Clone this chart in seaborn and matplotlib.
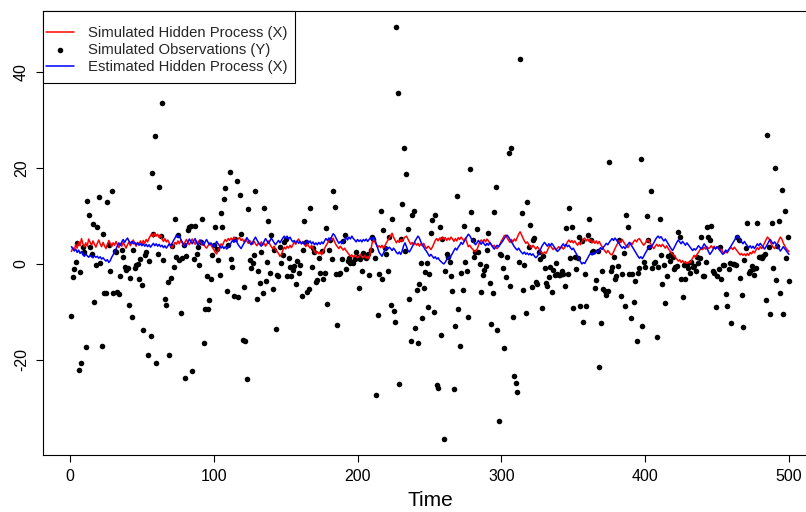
import numpy as np
import pandas as pd
import matplotlib
matplotlib.use("Agg")
import matplotlib.pyplot as plt
from matplotlib.patches import Rectangle
import seaborn as sns

# observations Y, t = 1..500
y_obs = [
    -10.8, -2.8, -1.1, 0.4, 4.3, -22.0, -1.7, -20.7, 3.6, 2.4,
    -17.2, 13.1, 10.1, 3.5, 2.0, 8.3, -7.9, -0.3, 7.6, 14.0,
    0.3, -17.0, 6.2, -6.0, -6.1, 12.9, 4.0, -1.5, 15.1, -6.1,
    2.7, 2.4, -5.9, -6.2, -2.6, 3.0, 1.5, -0.6, -1.2, -0.9,
    -8.6, -2.9, -11.0, 2.9, -0.8, -0.3, 0.0, -3.2, 1.0, -4.4,
    -13.8, 1.9, 2.5, -19.0, 0.6, -15.0, 18.9, 6.2, 26.7, -20.7,
    2.0, 16.1, 5.9, 33.5, 0.8, -7.3, -8.5, -3.7, -19.0, -3.0,
    3.8, -0.6, 9.4, 1.5, 6.0, 0.8, -10.3, 1.2, 4.0, -23.8,
    1.7, 7.1, 7.8, 8.0, -22.4, 1.0, 8.0, 2.0, 3.5, -0.3,
    4.5, 9.4, -16.5, -9.3, -2.6, -9.3, -7.5, -3.2, 1.8, 4.0,
    7.6, 3.2, 0.8, -2.4, 10.7, 7.6, 13.5, 15.8, -5.6, 4.0,
    19.2, 1.1, -0.6, -6.7, 5.2, 17.2, -6.8, 14.3, 6.2, -15.8,
    -4.9, -16.1, -24.0, 11.5, 0.8, -0.9, 0.2, 1.9, 15.3, -7.2,
    -1.4, -4.0, 2.5, -6.1, 11.7, -3.5, 0.5, 9.0, -1.8, 6.1,
    -5.3, 3.0, -13.5, -2.3, -2.5, 3.6, 0.1, 1.9, 4.5, 5.1,
    -2.6, 1.2, -0.6, -2.6, -1.2, -0.4, -4.2, 0.6, -1.9, -0.2,
    -6.7, 3.0, 9.0, 4.5, -5.8, -5.3, 11.6, -0.7, 3.3, 2.4,
    -3.7, -3.3, 1.3, -1.9, 2.6, -3.2, -1.8, 7.4, -8.3, 3.0,
    5.0, 1.0, 15.2, 11.8, -2.0, -12.7, -2.1, -1.9, 1.0, 4.8,
    6.0, -1.0, 0.7, 1.2, 0.1, 0.5, 0.1, 1.0, 2.5, 1.5,
    -5.1, 1.0, -1.4, 2.2, 1.5, 1.2, 2.0, -2.2, 3.0, 5.6,
    5.2, 1.2, -27.2, -10.6, -2.1, 11.0, -3.2, 7.1, 3.3, 2.0,
    -1.4, 5.6, -8.6, 9.4, -9.7, -12.1, 49.3, 35.6, -25.0, 5.1,
    12.5, 24.1, 2.6, 18.8, 7.2, -7.4, -16.0, 10.2, 11.1, -13.4,
    -5.4, -16.5, -4.2, 0.3, -11.3, -5.0, -1.7, 0.3, -9.0, -2.1,
    6.4, 9.2, -10.0, 10.2, -25.2, -25.8, 7.6, -14.7, 5.2, -36.4,
    -1.4, 2.0, 1.5, 0.5, -2.6, -5.6, -26.1, -13.0, 14.2, -9.4,
    -17.1, -1.9, -5.4, 7.9, 0.5, -1.5, -11.0, 19.7, 10.9, 5.0,
    1.5, 2.5, 7.2, 2.5, 0.0, -5.8, -2.3, -1.2, -0.5, 3.0,
    6.5, -3.9, -12.5, -6.1, 10.9, 16.0, -13.8, -32.7, 2.0, 1.9,
    -0.8, -17.6, -2.8, 1.5, 23.2, -4.6, 24.2, -11.1, -23.3, -24.7,
    -26.7, 0.5, 42.7, 10.6, -5.4, -0.2, -10.3, 13.0, 3.5, 8.1,
    -4.9, 5.0, 5.5, -3.7, -4.2, 2.5, 1.1, -9.2, 1.7, -0.8,
    -3.9, -4.6, -2.8, -0.7, -5.9, -1.2, -2.3, 0.1, -2.1, -2.3,
    -2.2, -1.4, -2.1, -4.6, 7.4, -2.1, 11.7, 1.3, 7.6, -9.2,
    1.5, -1.1, 1.3, 5.7, -8.7, 4.7, -12.0, -2.1, -8.8, 6.0,
    9.3, 5.0, 2.4, 2.6, -5.1, -3.3, 2.8, -21.4, -12.2, -1.4,
    -5.3, -5.6, -6.4, -5.6, 21.3, -1.4, -0.7, 1.4, -3.2, -2.5,
    -0.4, 4.9, -6.7, -2.0, 2.2, -8.8, 10.2, 7.6, -2.1, -11.3,
    -2.1, -7.9, -3.5, -16.0, -1.8, -0.9, 21.9, -13.0, 0.5, -0.6,
    10.0, 5.0, 3.5, 15.3, -0.9, 0.1, 0.5, -15.3, -0.6, 9.4,
    1.9, -4.1, -0.2, -8.2, -2.6, 1.7, 0.7, 2.0, 1.4, -1.0,
    -0.6, -0.4, 6.7, 5.7, -3.2, -6.9, -0.2, -3.2, -0.2, -0.9,
    -1.9, 0.5, -0.6, -0.4, -1.4, 1.5, 0.1, 1.2, 5.7, -2.5,
    -2.6, 0.5, 7.8, 5.7, 4.9, 7.9, -1.4, -1.9, -9.0, -2.5,
    -1.1, 3.5, -3.1, -0.3, -0.2, -6.2, -8.8, -1.1, 0.1, -12.4,
    0.0, -0.1, -0.2, 5.6, 4.9, -3.0, -6.5, -13.2, 0.8, 3.3,
    8.6, -1.9, -1.4, -0.4, -1.1, -2.3, -0.9, 8.6, 1.5, 1.4,
    1.3, 1.7, 2.0, -7.5, 26.9, 3.5, -10.4, 8.6, -0.8, 19.9,
    -3.3, 3.7, 9.0, -6.0, 15.4, -10.4, 11.1, 1.2, 5.6, -3.5,
]

# simulated hidden process X (red)
x_sim = [
    2.6, 3.4, 2.9, 4.1, 3.3, 4.6, 3.8, 5.3, 4.2, 3.6,
    4.4, 3.7, 5.2, 4.5, 3.9, 4.8, 4.1, 3.5, 4.3, 5.0,
    4.2, 3.6, 4.5, 3.8, 3.2, 4.1, 4.9, 4.3, 3.6, 4.4,
    3.9, 4.7, 4.0, 3.4, 4.2, 3.7, 4.5, 3.9, 3.3, 4.0,
    4.6, 3.8, 4.4, 5.0, 4.3, 3.7, 4.5, 4.1, 4.8, 4.2,
    4.9, 4.3, 5.1, 4.6, 5.4, 5.9, 6.3, 5.6, 6.4, 5.8,
    6.2, 5.5, 6.0, 5.2, 4.7, 5.3, 4.6, 5.0, 4.4, 3.8,
    3.3, 3.9, 4.5, 4.1, 4.8, 4.2, 5.0, 4.4, 3.9, 4.6,
    5.1, 4.5, 4.0, 4.7, 5.2, 4.6, 4.1, 4.8, 4.3, 5.0,
    4.5, 3.9, 4.4, 3.6, 3.3, 3.8, 4.4, 3.9, 3.5, 3.0,
    2.4, 2.1, 2.8, 3.5, 4.2, 3.8, 4.6, 5.1, 4.7, 5.3,
    4.9, 5.4, 5.0, 5.6, 5.1, 4.7, 5.3, 5.5, 4.9, 5.2,
    4.6, 5.1, 4.8, 4.3, 4.9, 4.5, 4.1, 4.7, 4.2, 3.8,
    4.4, 4.0, 4.6, 3.9, 4.3, 3.7, 4.2, 4.8, 4.1, 3.6,
    3.2, 3.7, 3.0, 2.6, 2.2, 1.6, 2.0, 2.8, 3.5, 3.1,
    3.7, 3.3, 3.9, 3.4, 4.0, 4.6, 4.1, 4.8, 5.2, 4.6,
    4.2, 4.7, 4.1, 3.6, 4.2, 3.7, 3.3, 3.9, 3.2, 2.7,
    2.2, 2.6, 2.1, 2.5, 1.9, 2.6, 3.2, 3.8, 4.3, 4.9,
    5.4, 5.0, 5.4, 4.6, 4.0, 3.6, 3.2, 3.7, 3.3, 2.9,
    3.3, 2.8, 2.4, 2.0, 1.6, 1.9, 1.4, 1.8, 1.5, 1.3,
    1.6, 2.0, 1.5, 1.3, 1.8, 1.2, 1.6, 1.1, 2.6, 4.2,
    5.2, 4.6, 4.0, 3.5, 3.8, 3.4, 3.9, 3.3, 3.8, 4.4,
    4.9, 5.4, 5.9, 6.4, 5.6, 5.0, 4.4, 4.9, 4.5, 5.1,
    4.7, 5.3, 5.6, 5.8, 5.2, 4.6, 4.1, 4.5, 4.0, 4.4,
    3.9, 4.3, 3.7, 4.2, 3.8, 4.3, 3.6, 3.2, 3.7, 3.4,
    3.0, 3.5, 4.2, 4.9, 5.3, 4.8, 5.4, 5.0, 5.6, 5.1,
    5.5, 4.9, 5.4, 5.0, 5.6, 5.2, 4.7, 5.3, 4.8, 5.5,
    5.1, 5.6, 5.2, 4.8, 5.4, 4.5, 3.6, 3.9, 3.4, 3.1,
    2.7, 2.6, 3.0, 3.8, 4.6, 5.0, 4.5, 5.1, 4.6, 5.2,
    4.8, 4.3, 4.0, 3.6, 3.9, 3.4, 3.2, 3.6, 4.1, 4.8,
    5.3, 5.9, 6.0, 5.4, 4.9, 4.5, 5.1, 4.6, 5.2, 4.8,
    5.5, 6.2, 6.7, 6.1, 5.4, 4.8, 4.3, 4.6, 4.1, 3.7,
    3.4, 3.9, 3.5, 3.1, 3.6, 3.2, 2.7, 2.4, 2.1, 2.5,
    2.2, 2.8, 3.5, 3.9, 3.4, 3.0, 3.4, 2.9, 3.3, 3.6,
    3.2, 3.6, 3.1, 3.4, 4.0, 4.6, 5.0, 4.5, 4.9, 4.4,
    4.8, 4.3, 3.9, 4.5, 4.0, 4.7, 5.2, 5.4, 4.8, 5.2,
    4.7, 5.1, 4.4, 4.9, 4.3, 4.8, 4.2, 4.7, 4.1, 3.6,
    3.1, 2.7, 2.3, 2.8, 2.4, 2.0, 1.9, 2.5, 3.2, 3.8,
    4.4, 4.9, 4.5, 5.1, 4.6, 4.1, 3.7, 3.4, 3.9, 4.4,
    4.1, 4.7, 5.0, 4.6, 5.1, 5.3, 4.8, 4.3, 3.9, 4.3,
    4.8, 5.1, 4.6, 4.1, 3.6, 3.2, 3.7, 4.1, 3.7, 4.0,
    3.6, 4.1, 3.7, 3.3, 3.8, 3.2, 2.8, 2.4, 2.1, 1.8,
    1.4, 1.0, 0.6, 0.9, 0.3, 0.7, 0.2, 0.5, 0.1, 0.4,
    0.2, 0.7, 1.2, 1.8, 1.4, 2.0, 2.4, 2.9, 3.3, 3.0,
    3.5, 3.1, 3.6, 3.2, 3.4, 3.8, 3.3, 3.7, 3.2, 3.6,
    3.2, 2.8, 3.1, 2.5, 2.2, 2.6, 2.3, 2.8, 3.2, 3.4,
    3.0, 3.5, 3.1, 2.7, 2.3, 1.9, 2.2, 1.8, 2.1, 1.7,
    2.2, 1.8, 2.4, 2.1, 2.7, 2.3, 2.9, 3.4, 3.0, 3.6,
    3.2, 3.7, 4.4, 5.0, 5.6, 5.3, 4.6, 4.0, 3.5, 3.2,
    3.7, 4.3, 5.0, 5.6, 5.2, 4.4, 3.8, 3.3, 2.9, 2.6,
]

# estimated hidden process X (blue)
x_est = [
    3.6, 3.2, 2.7, 3.1, 2.4, 2.9, 2.2, 2.6, 1.9, 1.6,
    2.1, 1.7, 1.4, 1.8, 1.5, 1.3, 1.7, 1.4, 1.6, 1.2,
    1.5, 1.0, 1.3, 0.9, 0.6, 0.9, 0.3, 0.7, 1.4, 1.9,
    2.6, 3.1, 3.8, 4.4, 3.9, 4.6, 5.1, 4.5, 5.0, 5.4,
    4.8, 4.3, 4.7, 4.2, 4.5, 4.0, 4.4, 3.9, 4.2, 3.8,
    4.2, 3.7, 4.1, 3.6, 4.0, 3.5, 3.9, 4.3, 3.8, 4.2,
    3.7, 4.1, 3.6, 3.9, 3.4, 3.8, 3.3, 3.7, 4.2, 3.8,
    4.3, 4.9, 5.4, 6.0, 5.5, 5.9, 5.2, 4.6, 4.1, 3.6,
    4.0, 4.6, 5.2, 4.7, 4.2, 4.8, 5.3, 4.5, 3.9, 4.4,
    5.0, 4.4, 3.9, 4.6, 5.1, 4.5, 4.0, 4.4, 3.9, 3.5,
    4.1, 4.7, 4.2, 3.8, 3.3, 3.7, 3.2, 3.6, 3.1, 3.5,
    3.9, 4.4, 4.9, 4.5, 5.1, 4.6, 4.0, 3.6, 3.2, 3.8,
    4.3, 4.8, 5.5, 5.0, 4.4, 4.0, 4.5, 5.1, 5.6, 5.0,
    4.5, 4.1, 3.7, 4.2, 4.7, 5.3, 4.8, 4.3, 4.8, 5.4,
    4.9, 4.4, 4.0, 4.5, 4.9, 4.4, 4.9, 5.4, 5.8, 5.3,
    5.8, 5.2, 5.6, 5.0, 4.6, 4.9, 4.4, 4.8, 4.3, 4.7,
    4.2, 4.6, 4.1, 4.5, 4.9, 4.4, 4.8, 4.2, 4.6, 4.0,
    4.4, 4.0, 4.5, 4.1, 4.6, 4.2, 4.8, 5.3, 4.9, 5.4,
    5.0, 5.7, 6.3, 6.0, 5.4, 4.8, 4.3, 4.7, 4.2, 4.6,
    5.1, 5.5, 5.0, 5.6, 5.2, 5.8, 5.3, 5.0, 4.6, 5.1,
    4.7, 5.0, 4.6, 5.1, 4.8, 5.2, 4.7, 5.1, 5.5, 5.0,
    5.6, 5.2, 4.2, 3.3, 2.4, 2.0, 1.6, 2.3, 2.9, 3.4,
    3.1, 3.5, 3.2, 2.8, 3.3, 2.9, 2.4, 2.1, 2.5, 2.0,
    2.7, 3.8, 4.4, 3.6, 2.8, 2.5, 3.0, 3.6, 4.2, 4.8,
    5.3, 5.8, 5.4, 4.6, 4.0, 3.5, 3.0, 2.6, 2.1, 1.6,
    2.0, 1.6, 1.2, 1.5, 1.0, 1.3, 0.8, 0.5, 0.2, 0.0,
    0.4, 0.9, 1.4, 1.1, 1.7, 2.2, 2.8, 3.3, 2.9, 3.5,
    3.9, 4.5, 4.1, 4.6, 5.2, 5.7, 6.2, 5.9, 5.3, 4.9,
    4.4, 4.0, 4.4, 4.9, 4.5, 4.1, 4.6, 4.2, 3.8, 4.3,
    3.9, 4.5, 4.0, 3.5, 3.1, 3.5, 3.9, 3.6, 4.0, 4.4,
    4.8, 5.3, 5.8, 6.0, 5.6, 5.1, 4.6, 4.1, 3.6, 3.2,
    2.9, 3.3, 2.8, 2.4, 2.1, 2.5, 2.0, 2.3, 1.9, 2.2,
    1.8, 2.1, 1.6, 1.3, 1.6, 2.2, 2.9, 3.6, 4.1, 4.5,
    4.1, 3.7, 4.2, 3.8, 4.3, 3.9, 3.4, 3.0, 2.6, 2.9,
    3.3, 3.8, 4.2, 3.7, 4.1, 3.6, 3.9, 3.4, 3.0, 3.3,
    2.7, 2.2, 1.6, 1.0, 0.5, 0.0, 0.3, 0.1, 0.7, 1.2,
    1.8, 2.2, 1.9, 2.4, 2.1, 2.7, 2.4, 3.0, 3.4, 3.0,
    3.5, 3.9, 4.3, 4.0, 4.5, 4.9, 5.3, 4.9, 5.4, 5.0,
    4.6, 4.2, 3.7, 3.3, 3.6, 3.2, 3.7, 4.1, 4.5, 4.1,
    3.6, 3.1, 2.6, 2.1, 1.6, 1.2, 1.5, 1.1, 1.6, 2.2,
    2.7, 3.3, 3.8, 3.4, 3.9, 4.4, 5.0, 5.5, 5.8, 5.4,
    5.7, 5.2, 4.8, 5.2, 4.7, 4.2, 3.7, 3.2, 2.8, 3.3,
    3.9, 4.5, 5.0, 4.6, 4.2, 4.7, 4.3, 3.9, 4.4, 4.0,
    3.6, 3.2, 2.8, 3.2, 2.9, 3.3, 3.8, 3.5, 3.1, 3.6,
    4.2, 3.8, 3.2, 2.6, 2.0, 2.4, 2.9, 3.5, 3.1, 3.6,
    3.2, 2.8, 2.4, 2.0, 2.4, 2.9, 2.5, 3.0, 3.4, 3.9,
    4.4, 4.9, 5.4, 5.9, 5.6, 5.0, 4.6, 4.2, 4.7, 4.2,
    3.8, 3.4, 3.8, 3.3, 3.7, 3.2, 3.7, 4.2, 3.8, 4.3,
    3.9, 3.5, 3.1, 3.6, 4.1, 4.7, 5.1, 4.6, 4.2, 4.6,
    4.2, 3.7, 3.2, 2.7, 3.1, 3.6, 3.2, 2.8, 2.4, 2.0,
]

x_ticks = [0, 100, 200, 300, 400, 500]
y_ticks = [-20, 0, 20, 40]
labels = ["Simulated Hidden Process (X)", "Simulated Observations (Y)",
          "Estimated Hidden Process (X)"]

df = pd.DataFrame({
    "time": np.arange(1, len(y_obs) + 1),
    "x_sim": x_sim,
    "y_obs": y_obs,
    "x_est": x_est,
})

sns.set_style("white")
plt.rcParams["font.family"] = ["Liberation Sans", "DejaVu Sans"]

fig = plt.figure(figsize=(8.06, 5.12), dpi=100)
ax = fig.add_axes([0.053, 0.1113, 0.9615, 0.8672])

sns.lineplot(data=df, x="time", y="x_sim", color="#FF0000", lw=1.1,
             ax=ax, label=labels[0])
sns.scatterplot(data=df, x="time", y="y_obs", color="black", s=16,
                linewidth=0, ax=ax, label=labels[1])
sns.lineplot(data=df, x="time", y="x_est", color="#0000FF", lw=1.1,
             ax=ax, label=labels[2])

# R-style default ranges (4% padding)
ax.set_xlim(1 - 0.04 * 499, 500 + 0.04 * 499)
ax.set_ylim(-39.8, 52.7)
ax.set_xticks(x_ticks)
ax.set_yticks(y_ticks)
ax.set_yticklabels([str(v) for v in y_ticks], rotation=90, va="center")
ax.tick_params(axis="both", direction="out", length=5, width=0.8,
               colors="black", labelsize=11.5, pad=5, left=True, bottom=True)
ax.set_xlabel("Time", fontsize=15, labelpad=5, color="black")
ax.set_ylabel("")
for sp in ax.spines.values():
    sp.set_visible(True)
    sp.set_color("black")
    sp.set_linewidth(0.8)

# R draws the legend box flush with the top-left corner, with tall padding
ax_w, ax_h = 0.9615 * 806, 0.8672 * 512
box = Rectangle((0, 1 - 72 / ax_h), 252 / ax_w, 72 / ax_h,
                transform=ax.transAxes, facecolor="white",
                edgecolor="black", linewidth=0.8, zorder=4.9, clip_on=False)
ax.add_patch(box)
leg = ax.legend(loc="upper left", bbox_to_anchor=(0, 1 - 12 / ax_h),
                borderaxespad=0, frameon=False, fontsize=10.7,
                handlelength=1.9, handletextpad=0.95, labelspacing=0.2,
                borderpad=0.2, scatterpoints=1)
leg.set_zorder(5)

fig.savefig("out.png", dpi=100)
